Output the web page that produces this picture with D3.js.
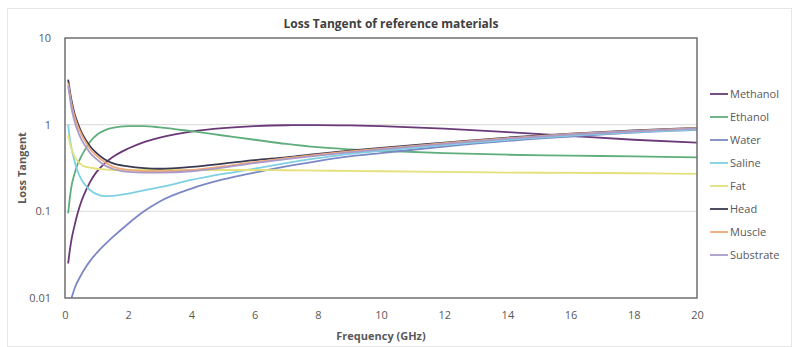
<!DOCTYPE html>
<html>
<head>
<meta charset="utf-8">
<script src="https://cdn.jsdelivr.net/npm/d3@7"></script>
<style>
  body { margin: 0; background: #fff; }
  text { font-family: "Open Sans", "Liberation Sans", sans-serif; fill: #595959; }
</style>
</head>
<body>
<div id="chart"></div>
<script>
const width = 792;
const height = 347;

// frequency points (GHz) shared by every series
const freq = [0.1, 0.15, 0.2, 0.3, 0.4, 0.5, 0.6, 0.8, 1, 1.25, 1.5, 2, 2.5, 3, 4, 5, 6, 7, 8, 9, 10, 12, 14, 16, 18, 20];

const methanol = [0.025, 0.035, 0.046, 0.068, 0.095, 0.125, 0.155, 0.22, 0.285, 0.355, 0.42, 0.53, 0.63, 0.71, 0.83, 0.91, 0.96, 0.985, 0.99, 0.98, 0.96, 0.9, 0.82, 0.74, 0.67, 0.62];
const ethanol = [0.095, 0.14, 0.19, 0.27, 0.35, 0.42, 0.49, 0.64, 0.76, 0.86, 0.92, 0.96, 0.96, 0.93, 0.84, 0.75, 0.67, 0.6, 0.55, 0.52, 0.5, 0.47, 0.45, 0.44, 0.43, 0.42];
const water = [null, null, 0.0098, 0.0128, 0.0155, 0.0182, 0.021, 0.027, 0.033, 0.041, 0.05, 0.072, 0.1, 0.13, 0.183, 0.233, 0.28, 0.33, 0.38, 0.43, 0.47, 0.56, 0.65, 0.73, 0.81, 0.87];
const saline = [1.0, 0.7, 0.55, 0.38, 0.29, 0.24, 0.21, 0.175, 0.158, 0.15, 0.151, 0.16, 0.175, 0.19, 0.23, 0.27, 0.31, 0.36, 0.41, 0.46, 0.5, 0.58, 0.67, 0.75, 0.82, 0.88];
const fat = [0.76, 0.62, 0.53, 0.43, 0.38, 0.35, 0.33, 0.32, 0.31, 0.305, 0.3, 0.3, 0.3, 0.3, 0.3, 0.3, 0.3, 0.298, 0.295, 0.293, 0.29, 0.285, 0.28, 0.278, 0.275, 0.27];
const head = [3.3, 2.5, 1.95, 1.35, 1.05, 0.85, 0.72, 0.56, 0.47, 0.4, 0.36, 0.33, 0.315, 0.31, 0.325, 0.355, 0.39, 0.42, 0.46, 0.5, 0.54, 0.62, 0.71, 0.79, 0.86, 0.92];
const muscle = [3.0, 2.3, 1.8, 1.25, 0.97, 0.8, 0.68, 0.52, 0.44, 0.37, 0.33, 0.3, 0.29, 0.29, 0.3, 0.33, 0.37, 0.41, 0.45, 0.49, 0.53, 0.61, 0.7, 0.78, 0.85, 0.91];
const substrate = [2.8, 2.1, 1.6, 1.1, 0.85, 0.7, 0.6, 0.47, 0.4, 0.34, 0.31, 0.285, 0.28, 0.28, 0.29, 0.32, 0.36, 0.4, 0.44, 0.48, 0.52, 0.6, 0.69, 0.77, 0.84, 0.9];

const names = ["Methanol", "Ethanol", "Water", "Saline", "Fat", "Head", "Muscle", "Substrate"];
const colors = ["#6a3a78", "#5fae7c", "#7c88c6", "#7fd0e2", "#e4e07a", "#3a3a52", "#f0a878", "#a99ac8"];
const values = [methanol, ethanol, water, saline, fat, head, muscle, substrate];

const xTicks = [0, 2, 4, 6, 8, 10, 12, 14, 16, 18, 20];
const yTicks = [0.01, 0.1, 1, 10];

const margin = {top: 38, right: 95, bottom: 49, left: 65};
const plotW = width - margin.left - margin.right;
const plotH = height - margin.top - margin.bottom;

const svg = d3.select("#chart").append("svg")
    .attr("width", width)
    .attr("height", height);

// chart area outline
svg.append("rect")
    .attr("x", 7.5).attr("y", 8.5)
    .attr("width", width - 8).attr("height", height - 9)
    .attr("fill", "none").attr("stroke", "#e6e6e6");

const x = d3.scaleLinear().domain([0, 20]).range([margin.left, margin.left + plotW]);
const y = d3.scaleLog().domain([0.01, 10]).range([margin.top + plotH, margin.top]);

// gridlines
svg.append("g").selectAll("line")
    .data([0.1, 1])
    .enter().append("line")
    .attr("x1", x(0)).attr("x2", x(20))
    .attr("y1", d => y(d)).attr("y2", d => y(d))
    .attr("stroke", "#dadada").attr("stroke-width", 1);

svg.append("defs").append("clipPath").attr("id", "clip")
    .append("rect")
    .attr("x", x(0)).attr("y", y(10))
    .attr("width", plotW).attr("height", plotH);

const line = d3.line()
    .defined(d => d[1] != null)
    .x(d => x(d[0]))
    .y(d => y(d[1]))
    .curve(d3.curveMonotoneX);

const lines = svg.append("g").attr("clip-path", "url(#clip)");
values.forEach((vals, i) => {
    lines.append("path")
        .datum(freq.map((f, j) => [f, vals[j]]))
        .attr("d", line)
        .attr("fill", "none")
        .attr("stroke", colors[i])
        .attr("stroke-width", 1.8);
});

// plot frame
svg.append("rect")
    .attr("x", x(0)).attr("y", y(10))
    .attr("width", plotW).attr("height", plotH)
    .attr("fill", "none").attr("stroke", "#6f6f6f").attr("stroke-width", 1.5);

// axes
const xAxis = svg.append("g")
    .attr("transform", `translate(0,${margin.top + plotH})`)
    .call(d3.axisBottom(x).tickValues(xTicks).tickSize(0).tickPadding(13));
xAxis.select(".domain").remove();
xAxis.selectAll("text").attr("font-size", 11).style("fill", "#595959");

const yAxis = svg.append("g")
    .attr("transform", `translate(${margin.left},0)`)
    .call(d3.axisLeft(y).tickValues(yTicks).tickFormat(d => String(d)).tickSize(0).tickPadding(14));
yAxis.select(".domain").remove();
yAxis.selectAll("text").attr("font-size", 11).style("fill", "#595959");

// titles
svg.append("text")
    .attr("x", 391).attr("y", 28)
    .attr("text-anchor", "middle")
    .attr("font-size", 12).attr("font-weight", "bold")
    .style("fill", "#404040")
    .text("Loss Tangent of reference materials");

svg.append("text")
    .attr("x", x(10)).attr("y", 340)
    .attr("text-anchor", "middle")
    .attr("font-size", 11).attr("font-weight", "bold")
    .text("Frequency (GHz)");

svg.append("text")
    .attr("transform", `translate(26,${margin.top + plotH / 2}) rotate(-90)`)
    .attr("text-anchor", "middle")
    .attr("font-size", 11).attr("font-weight", "bold")
    .text("Loss Tangent");

// legend
const legend = svg.append("g");
names.forEach((n, i) => {
    const ly = 94 + i * 23;
    legend.append("line")
        .attr("x1", 710).attr("x2", 728)
        .attr("y1", ly).attr("y2", ly)
        .attr("stroke", colors[i]).attr("stroke-width", 1.8);
    legend.append("text")
        .attr("x", 730).attr("y", ly + 4)
        .attr("font-size", 11)
        .text(n);
});
</script>
</body>
</html>
